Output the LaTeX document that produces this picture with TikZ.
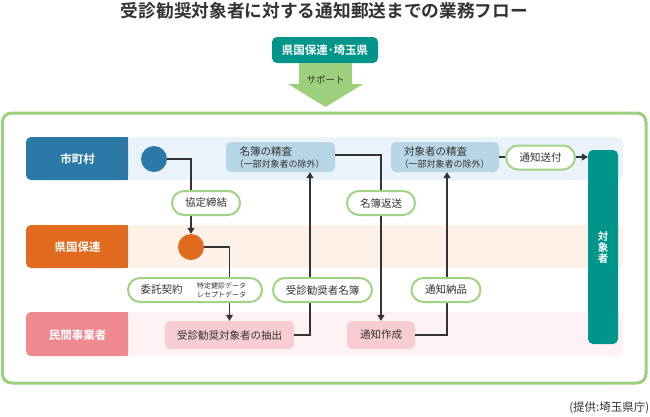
\documentclass[tikz,border=0pt]{standalone}
\usepackage{fontspec}
\setmainfont{Noto Sans CJK JP}[BoldFont={Noto Sans CJK JP Bold}]
\usetikzlibrary{arrows.meta}
\definecolor{txt}{HTML}{333333}
\definecolor{barblue}{HTML}{2B79A6}
\definecolor{laneblue}{HTML}{EAF3FA}
\definecolor{barorange}{HTML}{E06A1E}
\definecolor{laneorange}{HTML}{FEF1E8}
\definecolor{barpink}{HTML}{EF8A91}
\definecolor{lanepink}{HTML}{FFF2F4}
\definecolor{tealc}{HTML}{00958A}
\definecolor{framegreen}{HTML}{9DD07C}
\definecolor{pillgreen}{HTML}{A2D283}
\definecolor{boxblue}{HTML}{B8D6E6}
\definecolor{boxpink}{HTML}{F8CDD2}
\begin{document}
\begin{tikzpicture}[x=1pt,y=-1pt,
  every node/.style={text=txt, inner sep=0pt},
  lanetext/.style={text=white, font=\fontsize{11.5}{13}\selectfont\bfseries},
  procbox/.style={rounded corners=5, minimum height=30},
  boxtext/.style={font=\fontsize{10.5}{12}\selectfont},
  subtext/.style={font=\fontsize{9}{11}\selectfont},
  pill/.style={draw=pillgreen, line width=2, fill=white, rounded corners=12, minimum height=24, font=\fontsize{10.5}{12}\selectfont},
  dot/.style={circle, minimum size=26},
  conn/.style={draw=txt, line width=1.1},
  arr/.style={conn, -{Triangle[length=6,width=7]}}
]
\useasboundingbox (0,0) rectangle (650,416);

% title
\node[font=\fontsize{17.7}{20}\selectfont\bfseries] (title) at (324.5,11) {受診勧奨対象者に対する通知郵送までの業務フロー};

% support box and arrow
\node[fill=tealc, rounded corners=5, minimum width=106, minimum height=26, text=white, font=\fontsize{11.5}{13}\selectfont\bfseries] (ken) at (325,50) {県国保連･埼玉県};
\fill[framegreen] (299,63) -- (352,63) -- (352,84) -- (363,84) -- (325.5,107) -- (288,84) -- (299,84) -- cycle;
\node[font=\fontsize{9.5}{11}\selectfont] (support) at (325.5,80) {サポート};

% frame
\draw[framegreen, line width=3, rounded corners=9] (2.5,113) rectangle (646,383);

% lanes
\fill[laneblue, rounded corners=5] (26,137) rectangle (623,180);
\fill[barblue, rounded corners=5] (26,137) rectangle (128,180);
\fill[barblue] (118,137) rectangle (128,180);
\node[lanetext] (l1) at (77.5,159) {市町村};

\fill[laneorange, rounded corners=5] (26,225) rectangle (623,268);
\fill[barorange, rounded corners=5] (26,225) rectangle (128,268);
\fill[barorange] (118,225) rectangle (128,268);
\node[lanetext] (l2) at (77.5,247) {県国保連};

\fill[lanepink, rounded corners=5] (26,312) rectangle (623,356);
\fill[barpink, rounded corners=5] (26,312) rectangle (128,356);
\fill[barpink] (118,312) rectangle (128,356);
\node[lanetext] (l3) at (77.5,335) {民間事業者};

% circles
\node[dot, fill=barblue] (c1) at (154,159) {};
\node[dot, fill=barorange] (c2) at (191,247) {};

% process boxes
\node[procbox, fill=boxblue, minimum width=109] (meibo) at (280.5,157) {};
\node[boxtext, anchor=west] (meibo1) at (239.5,151) {名簿の精査};
\node[subtext, anchor=west] (meibo2) at (234.5,164.5) {（一部対象者の除外）};

\node[procbox, fill=boxblue, minimum width=108] (taisho) at (445,157) {};
\node[boxtext, anchor=west] (taisho1) at (404,151) {対象者の精査};
\node[subtext, anchor=west] (taisho2) at (399.5,164.5) {（一部対象者の除外）};

\node[procbox, fill=boxpink, minimum width=129, minimum height=28, boxtext] (chushutsu) at (229.5,335) {受診勧奨対象者の抽出};
\node[procbox, fill=boxpink, minimum width=68, minimum height=28, boxtext] (tsuchi) at (381,335) {通知作成};

% target bar
\node[fill=tealc, rounded corners=5, minimum width=30, minimum height=194] (target) at (603,247) {};
\node[text=white, align=center, font=\fontsize{10.5}{11}\selectfont\bfseries] (targettext) at (603,248) {対\\象\\者};

% connectors
\draw[arr] (c1.east) -| (c2.north);
\draw[arr] (c2.east) -| (chushutsu.north);
\draw[arr] (chushutsu.east) -| ([xshift=29.5pt]meibo.south);
\draw[arr] ([yshift=2pt]meibo.east) -| (tsuchi.north);
\draw[arr] (tsuchi.east) -| ([xshift=2pt]taisho.south);
\draw[arr] (taisho.east) -- (taisho.east -| target.west);

% labels on connectors
\node[pill, minimum width=68] (kyotei) at (206,203) {協定締結};
\node[pill, minimum width=68] (henso) at (381,203) {名簿返送};
\node[pill, minimum width=134] (itaku) at (195,290) {};
\node[font=\fontsize{10.5}{12}\selectfont] (itaku1) at (161.5,290) {委託契約};
\node[font=\fontsize{7}{9.5}\selectfont, align=left] (itaku2) at (221.5,290) {特定健診データ\\レセプトデータ};
\node[pill, minimum width=99] (meibolbl) at (322.5,290) {受診勧奨者名簿};
\node[pill, minimum width=69] (nohin) at (446,290) {通知納品};
\node[pill, minimum width=69] (sofu) at (540.5,157.5) {通知送付};

% credit
\node[font=\fontsize{11.5}{13}\selectfont, anchor=east] (credit) at (649.5,408) {(提供:埼玉県庁)};
\end{tikzpicture}
\end{document}
